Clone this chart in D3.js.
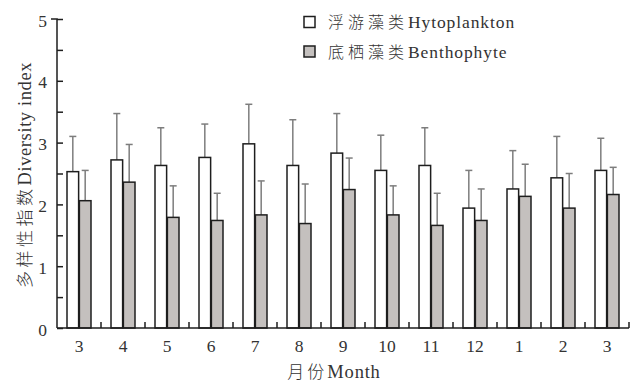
<!DOCTYPE html>
<html>
<head>
<meta charset="utf-8">
<script src="https://cdn.jsdelivr.net/npm/d3@7"></script>
<style>
  html, body { margin: 0; padding: 0; background: #fff; }
  svg { display: block; }
  .lat { font-family: "Liberation Serif", "Times New Roman", serif; }
  .cjk { font-family: "Noto Sans CJK SC", sans-serif; font-weight: 300; }
</style>
</head>
<body>
<svg id="chart" width="636" height="383"></svg>
<script>
// Monthly diversity index, mean and standard deviation per group
const months = ["3", "4", "5", "6", "7", "8", "9", "10", "11", "12", "1", "2", "3"];
const phytoMean = [2.53, 2.72, 2.63, 2.76, 2.98, 2.63, 2.83, 2.55, 2.63, 1.94, 2.25, 2.43, 2.55];
const phytoSD   = [0.57, 0.75, 0.61, 0.54, 0.64, 0.74, 0.64, 0.57, 0.61, 0.61, 0.62, 0.67, 0.52];
const benthMean = [2.06, 2.36, 1.79, 1.74, 1.83, 1.69, 2.24, 1.83, 1.66, 1.74, 2.13, 1.94, 2.16];
const benthSD   = [0.49, 0.61, 0.51, 0.44, 0.55, 0.64, 0.51, 0.47, 0.52, 0.51, 0.52, 0.56, 0.44];
const seriesNames = [["浮游藻类", "Hytoplankton"], ["底栖藻类", "Benthophyte"]];
const seriesFill = ["#ffffff", "#c4c0be"];
const yTicks = [0, 1, 2, 3, 4, 5];

const svg = d3.select("#chart");
const plotL = 57, plotR = 629, plotT = 19, plotB = 328;

const x = d3.scaleBand().domain(d3.range(months.length)).range([plotL, plotR]);
const xs = d3.scaleBand().domain([0, 1]).range([10, x.bandwidth() - 10]).paddingInner(0.06);
const y = d3.scaleLinear().domain([0, 5]).range([plotB, plotT]);

const series = [
  phytoMean.map((m, i) => ({ i, s: 0, m, sd: phytoSD[i] })),
  benthMean.map((m, i) => ({ i, s: 1, m, sd: benthSD[i] }))
];
const all = series.flat();

// error bars (upper half only), drawn beneath the bars
const eb = svg.append("g").attr("stroke", "#7d7d7d").attr("stroke-width", 1.5);
all.forEach(d => {
  const cx = x(d.i) + xs(d.s) + xs.bandwidth() / 2;
  eb.append("line").attr("x1", cx).attr("x2", cx).attr("y1", y(d.m)).attr("y2", y(d.m + d.sd));
  eb.append("line").attr("x1", cx - 3.5).attr("x2", cx + 3.5).attr("y1", y(d.m + d.sd)).attr("y2", y(d.m + d.sd));
});

// bars
svg.append("g").selectAll("rect").data(all).join("rect")
  .attr("x", d => x(d.i) + xs(d.s))
  .attr("y", d => y(d.m))
  .attr("width", xs.bandwidth())
  .attr("height", d => y(0) - y(d.m))
  .attr("fill", d => seriesFill[d.s])
  .attr("stroke", "#1e1e1e")
  .attr("stroke-width", 1.5);

// y axis with inward ticks
const yAxis = d3.axisLeft(y).tickValues(d3.range(0, 5.01, 0.5)).tickSize(-6).tickPadding(10)
  .tickFormat(d => yTicks.includes(d) ? d3.format("d")(d) : "");
const gy = svg.append("g").attr("transform", `translate(${plotL},0)`).call(yAxis);
gy.select(".domain").attr("d", `M-6,${plotT}H0V${plotB}`).attr("stroke", "#1e1e1e").attr("stroke-width", 1.5);
gy.selectAll(".tick line").attr("stroke", "#1e1e1e").attr("stroke-width", 1.5);
gy.selectAll(".tick text").attr("class", "lat").attr("font-size", 17.5).attr("fill", "#333").attr("dy", "0.4em");

// x axis: labels at band centres, ticks at band edges
const xAxis = d3.axisBottom(x).tickSize(0).tickPadding(10).tickFormat(i => months[i]);
const gx = svg.append("g").attr("transform", `translate(0,${plotB})`).call(xAxis);
gx.select(".domain").attr("d", `M${plotL},0H${plotR}`).attr("stroke", "#1e1e1e").attr("stroke-width", 1.5);
gx.selectAll(".tick text").attr("class", "lat").attr("font-size", 17.5).attr("fill", "#333").attr("dy", "0.8em");
gx.selectAll(".edge").data(d3.range(1, months.length + 1)).join("line")
  .attr("x1", i => x.step() * i + plotL).attr("x2", i => x.step() * i + plotL)
  .attr("y1", 0).attr("y2", -6)
  .attr("stroke", "#1e1e1e").attr("stroke-width", 1.5);

// axis titles
const xt = svg.append("text").attr("x", 334).attr("y", 378).attr("text-anchor", "middle").attr("fill", "#333");
xt.append("tspan").attr("class", "cjk").attr("font-size", 17).attr("letter-spacing", 3).text("月份");
xt.append("tspan").attr("class", "lat").attr("font-size", 18.5).attr("letter-spacing", 0.8).text("Month");

const yt = svg.append("text").attr("transform", "translate(31,175) rotate(-90)").attr("text-anchor", "middle").attr("fill", "#333");
yt.append("tspan").attr("class", "cjk").attr("font-size", 17).attr("letter-spacing", 3.5).text("多样性指数");
yt.append("tspan").attr("class", "lat").attr("font-size", 18.5).attr("letter-spacing", 0.6).text("Diversity index");

// legend
const lg = svg.append("g");
seriesNames.forEach((nm, k) => {
  const cy = 22 + k * 29.5;
  lg.append("rect").attr("x", 304).attr("y", cy - 5.5).attr("width", 11).attr("height", 11)
    .attr("fill", seriesFill[k]).attr("stroke", "#1e1e1e").attr("stroke-width", 1.5);
  const t = lg.append("text").attr("x", 328).attr("y", cy + 6).attr("fill", "#333");
  t.append("tspan").attr("class", "cjk").attr("font-size", 16).attr("letter-spacing", 4).text(nm[0]);
  t.append("tspan").attr("class", "lat").attr("font-size", 17.5).attr("letter-spacing", 0.9).text(nm[1]);
});
</script>
</body>
</html>
